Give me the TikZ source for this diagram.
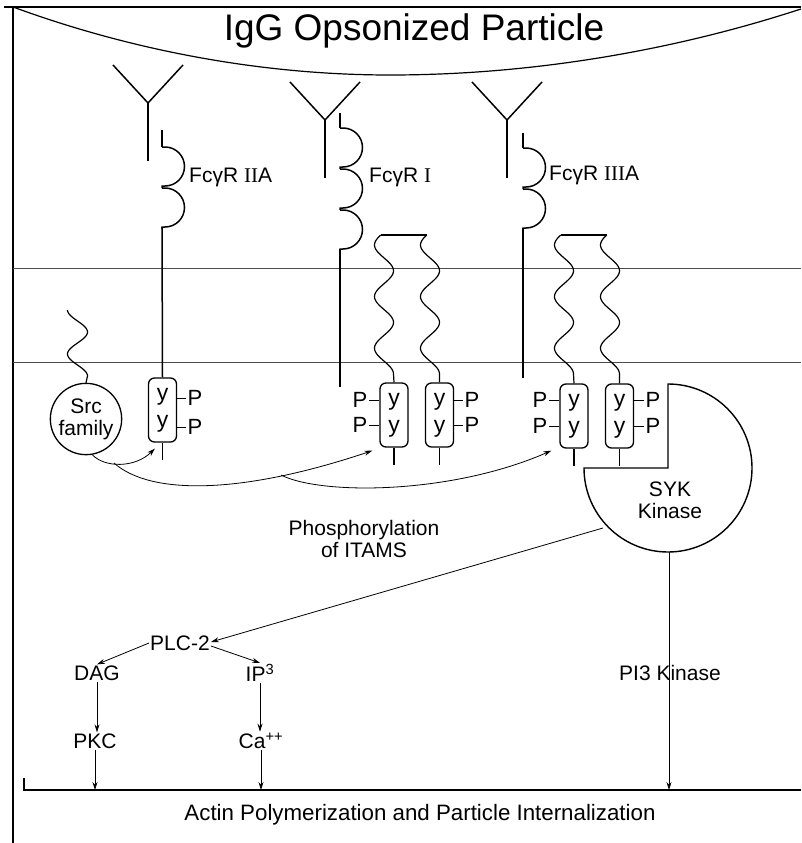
\documentclass[tikz,border=0pt]{standalone}
\usepackage{fontspec}
\setmainfont{Liberation Sans}
\newfontfamily\numfont{Liberation Serif}
\usetikzlibrary{arrows.meta, positioning}

\begin{document}
\begin{tikzpicture}[x=1pt, y=-1pt,
  lbl/.style={font=\fontsize{21}{22}\selectfont, inner sep=1pt, align=center},
  rec/.style={line width=1.5pt},
  wavy/.style={line width=1.2pt},
  itam/.style={draw, line width=1.3pt, rounded corners=6pt, minimum width=28pt,
    minimum height=64pt, inner sep=0pt, align=center, font=\fontsize{23}{27}\selectfont},
  memb/.style={black!70, line width=1pt},
  arr/.style={-{Stealth[length=8pt, width=5pt]}, line width=0.8pt},
]
  \useasboundingbox (0,0) rectangle (801,843);

  % Frame and particle
  \draw[line width=1.3pt] (4,7) -- (801,7);
  \draw[line width=1.3pt] (13,7) -- (13,843);
  \draw[line width=1.2pt] (13,7) parabola bend (390,75) (801,9);
  \node[font=\fontsize{37}{40}\selectfont] (igg) at (414,31) {IgG Opsonized Particle};

  % Membrane
  \draw[memb] (13,268) -- (801,268);
  \draw[memb] (13,362) -- (801,362);

  % Antibodies
  \foreach \x/\y in {148/103, 325/120, 507/120} {
    \draw[rec] (\x-35,\y-38) -- (\x,\y) -- (\x+35,\y-38);
    \draw[rec] (\x,\y) -- (\x,\y+58);
  }

  % ITAM boxes
  \node[itam] (itamA) at (162.5,410) {y\\y};
  \node[itam] (itamB) at (394,415) {y\\y};
  \node[itam] (itamC) at (439.5,415) {y\\y};
  \node[itam] (itamD) at (574,416) {y\\y};
  \node[itam] (itamE) at (619.5,416) {y\\y};

  % Fc receptors with Ig-like loops
  \draw[rec] (162,130) -- (162,147);
  \foreach \y in {147,188}
    \draw[rec] (162,\y) -- (165,\y) arc(90:-90:19.5pt) -- (162,\y+39) -- (162,\y+41);
  \draw[rec] (162,227) -- (itamA.north);

  \draw[rec] (340,113) -- (340,128);
  \foreach \y in {128,169,210}
    \draw[rec] (340,\y) -- (343,\y) arc(90:-90:19.5pt) -- (340,\y+39) -- (340,\y+41);
  \draw[rec] (340,249) -- (340,387);

  \draw[rec] (523,133) -- (523,148);
  \foreach \y in {148,189}
    \draw[rec] (523,\y) -- (526,\y) arc(90:-90:19.5pt) -- (523,\y+39) -- (523,\y+41);
  \draw[rec] (523,228) -- (523,378);

  \node[lbl, anchor=west] (labIIA) at (188,177) {FcγR {\numfont II}A};
  \node[lbl, anchor=west] (labI) at (368,177) {FcγR {\numfont I}};
  \node[lbl, anchor=west] (labIIIA) at (548,175) {FcγR {\numfont III}A};

  % Gamma chains
  \draw[wavy] (380.6,235) -- (426.6,235);
  \draw[wavy] (560.6,235) -- (606.6,235);
  \foreach \cx/\bx in {384/itamB, 430/itamC, 564/itamD, 610/itamE}
    \draw[wavy] plot[domain=0:139, samples=90, smooth] ({\cx-9.5*cos((\x-10)/51.6*360)}, {235+\x}) -- (\bx.north);

  % Src family
  \node[draw, circle, line width=1.3pt, minimum size=68pt, inner sep=0pt, lbl] (src) at (86,419) {Src\\family};
  \draw[wavy] plot[domain=0:66, samples=50, smooth] ({77.5-10*cos(\x/44*360)}, {310+\x}) -- (src.north);

  % Phosphates
  \foreach \n/\bx/\side/\x/\y in {a1/itamA/east/195/398, a2/itamA/east/195/427,
      b1/itamB/west/360/400, b2/itamB/west/360/425,
      c1/itamC/east/472/400, c2/itamC/east/472/425,
      d1/itamD/west/540/400, d2/itamD/west/540/426,
      e1/itamE/east/653/400, e2/itamE/east/653/426} {
    \node[lbl, font=\fontsize{22}{24}\selectfont] (p\n) at (\x,\y) {P};
    \draw[line width=1pt] (\bx.\side |- p\n) -- (p\n);
  }
  \foreach \bx in {itamA, itamB, itamC, itamD, itamE}
    \draw[rec] (\bx.south) -- ++(0,17);

  % SYK kinase
  \draw[line width=1.4pt] (668,468) -- (668,384) arc(90:-180:84pt) -- cycle;
  \node[lbl] (syk) at (670,500) {SYK\\Kinase};
  \coordinate (sykout) at (603,528);
  \coordinate (sykbot) at (669,552);

  % Phosphorylation of ITAMs
  \draw[arr] (src.-80) .. controls (105,468) and (135,468) .. ([shift={(7pt,-6pt)}]itamA.south west);
  \coordinate (brA) at (114,463);
  \draw[arr] (brA) .. controls (150,495) and (240,495) .. ([shift={(-7pt,-3pt)}]itamB.south west);
  \coordinate (brB) at (281,475);
  \draw[arr] (brB) .. controls (320,495) and (450,495) .. ([shift={(-8pt,-2pt)}]itamD.south west);
  \node[lbl] (phos) at (364,539) {Phosphorylation\\of ITAMS};

  % Downstream signalling
  \node[lbl] (plc) at (180,643) {PLC-2};
  \node[lbl] (dag) at (97,673) {DAG};
  \node[lbl] (ip3) at (260,673) {IP\textsuperscript{3}};
  \node[lbl] (pkc) at (95,741) {PKC};
  \node[lbl] (ca) at (261,741) {Ca\textsuperscript{++}};
  \node[lbl] (pi3) at (670,673) {PI3 Kinase};

  \draw[line width=1.2pt] (24,778) -- (24,790) coordinate (actL) -- (801,790);
  \node[lbl, font=\fontsize{22.3}{24}\selectfont] (actin) at (420,815) {Actin Polymerization and Particle Internalization};

  \draw[arr] (sykout) -- ([yshift=1pt]plc.east);
  \draw[arr] ([yshift=-3pt]plc.east) -- (ip3.north);
  \draw[arr] (plc.west) -- (dag.north);
  \draw[arr] (dag.south) -- (dag.south |- pkc.north);
  \draw[arr] (ip3.south) -- (ip3.south |- ca.north);
  \draw[arr] (pkc.south) -- (pkc.south |- actL);
  \draw[arr] (ca.south) -- (ca.south |- actL);
  \draw[arr] (sykbot) -- (sykbot |- actL);
\end{tikzpicture}
\end{document}
